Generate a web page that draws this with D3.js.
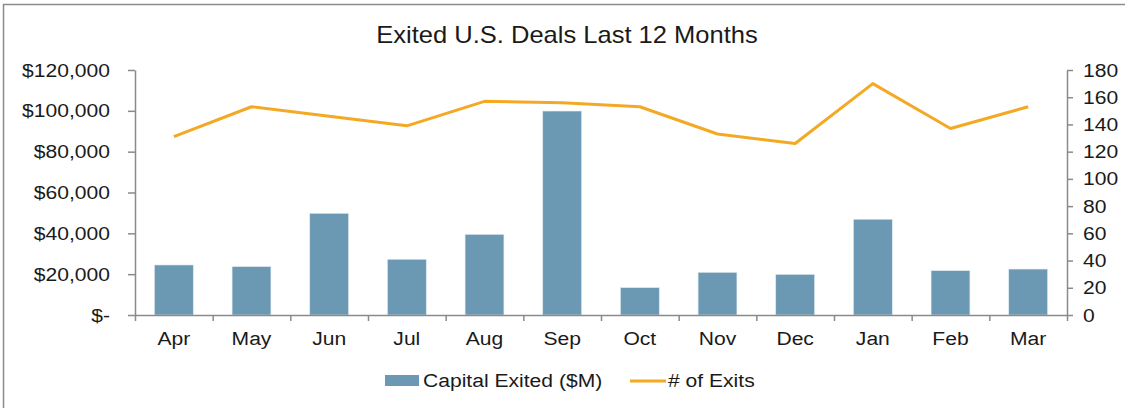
<!DOCTYPE html>
<html>
<head>
<meta charset="utf-8">
<script src="https://cdn.jsdelivr.net/npm/d3@7"></script>
<style>
  html, body { margin: 0; padding: 0; background: #fff; }
  svg { display: block; font-family: "Liberation Sans", Arial, sans-serif; }
</style>
</head>
<body>
<script>
const width = 1125;
const height = 408;

const months = ["Apr", "May", "Jun", "Jul", "Aug", "Sep", "Oct", "Nov", "Dec", "Jan", "Feb", "Mar"];
// capital exited, $M
const capital = [24500, 23700, 49800, 27300, 39500, 99900, 13400, 20900, 19900, 46900, 21700, 22500];
// number of exits
const exits = [131, 153, 146, 139, 157, 156, 153, 133, 126, 170, 137, 153];
const leftTicks = [0, 20000, 40000, 60000, 80000, 100000, 120000];
const rightTicks = d3.range(0, 181, 20);

const margin = {top: 70, right: 58, bottom: 93, left: 135};
const plotW = width - margin.left - margin.right;
const plotH = height - margin.top - margin.bottom;

// the source text is a bit wider than Liberation Sans, stretch it sideways
const sx = 1.11;
const stretch = (sel, x) => sel.attr("x", x / sx).attr("transform", `scale(${sx},1)`);

const svg = d3.select("body").append("svg")
  .attr("width", width)
  .attr("height", height);

// frame (top + left edges only are visible)
svg.append("path")
  .attr("d", `M3.5,${height} V4.5 H${width}`)
  .attr("fill", "none")
  .attr("stroke", "#8c8c8c")
  .attr("stroke-width", 1.5);

svg.append("text")
  .attr("y", 43)
  .attr("text-anchor", "middle")
  .attr("font-size", 23)
  .attr("fill", "#1a1a1a")
  .text("Exited U.S. Deals Last 12 Months")
  .call(stretch, 567);

const g = svg.append("g")
  .attr("transform", `translate(${margin.left},${margin.top})`);

const x = d3.scaleBand()
  .domain(months)
  .range([0, plotW])
  .paddingInner(0.5)
  .paddingOuter(0.25);

const xEdges = d3.scaleLinear().domain([0, months.length]).range([0, plotW]);

const yL = d3.scaleLinear().domain([0, 120000]).range([plotH, 0]);
const yR = d3.scaleLinear().domain([0, 180]).range([plotH, 0]);

const fmtLeft = d => d === 0 ? "$-" : "$" + d3.format(",")(d);

// bars
g.selectAll("rect.bar")
  .data(capital)
  .join("rect")
  .attr("class", "bar")
  .attr("x", (d, i) => x(months[i]))
  .attr("width", x.bandwidth())
  .attr("y", d => yL(d))
  .attr("height", d => plotH - yL(d))
  .attr("fill", "#6b98b2")
  .attr("stroke", "#dfe9ef")
  .attr("stroke-width", 0.6);

// axes
const axisColor = "#8a8a8a";

const leftAxis = g.append("g")
  .call(d3.axisLeft(yL).tickValues(leftTicks).tickFormat(fmtLeft).tickSize(7).tickSizeOuter(0));

const rightAxis = g.append("g")
  .attr("transform", `translate(${plotW},0)`)
  .call(d3.axisRight(yR).tickValues(rightTicks).tickSize(6).tickSizeOuter(0));

const bottomEdges = g.append("g")
  .attr("transform", `translate(0,${plotH})`)
  .call(d3.axisBottom(xEdges).ticks(months.length).tickFormat("").tickSize(6).tickSizeOuter(0));

const bottomLabels = g.append("g")
  .attr("transform", `translate(0,${plotH})`)
  .call(d3.axisBottom(x).tickSize(0).tickPadding(17));
bottomLabels.select(".domain").remove();

[leftAxis, rightAxis, bottomEdges].forEach(a => {
  a.selectAll(".domain, .tick line").attr("stroke", axisColor).attr("stroke-width", 1.5);
});
[leftAxis, rightAxis, bottomLabels].forEach(a => {
  a.selectAll("text")
    .attr("font-size", 19)
    .attr("fill", "#1a1a1a")
    .attr("font-family", "Liberation Sans, Arial, sans-serif");
});
leftAxis.selectAll(".tick text").call(stretch, -25);
rightAxis.selectAll(".tick text").call(stretch, 16);
bottomLabels.selectAll(".tick text").call(stretch, 0);

// line
const line = d3.line()
  .x((d, i) => x(months[i]) + x.bandwidth() / 2)
  .y(d => yR(d));

g.append("path")
  .datum(exits)
  .attr("fill", "none")
  .attr("stroke", "#f4a925")
  .attr("stroke-width", 3)
  .attr("stroke-linejoin", "round")
  .attr("d", line);

// legend
const legend = svg.append("g").attr("transform", "translate(385,381)");
legend.append("rect")
  .attr("x", 0).attr("y", -6)
  .attr("width", 34).attr("height", 11)
  .attr("fill", "#6b98b2");
legend.append("text")
  .attr("y", 6)
  .attr("font-size", 19)
  .attr("fill", "#1a1a1a")
  .text("Capital Exited ($M)")
  .call(stretch, 38);
legend.append("line")
  .attr("x1", 245).attr("x2", 281)
  .attr("y1", 0).attr("y2", 0)
  .attr("stroke", "#f4a925")
  .attr("stroke-width", 3);
legend.append("text")
  .attr("y", 6)
  .attr("font-size", 19)
  .attr("fill", "#1a1a1a")
  .text("# of Exits")
  .call(stretch, 283);
</script>
</body>
</html>
